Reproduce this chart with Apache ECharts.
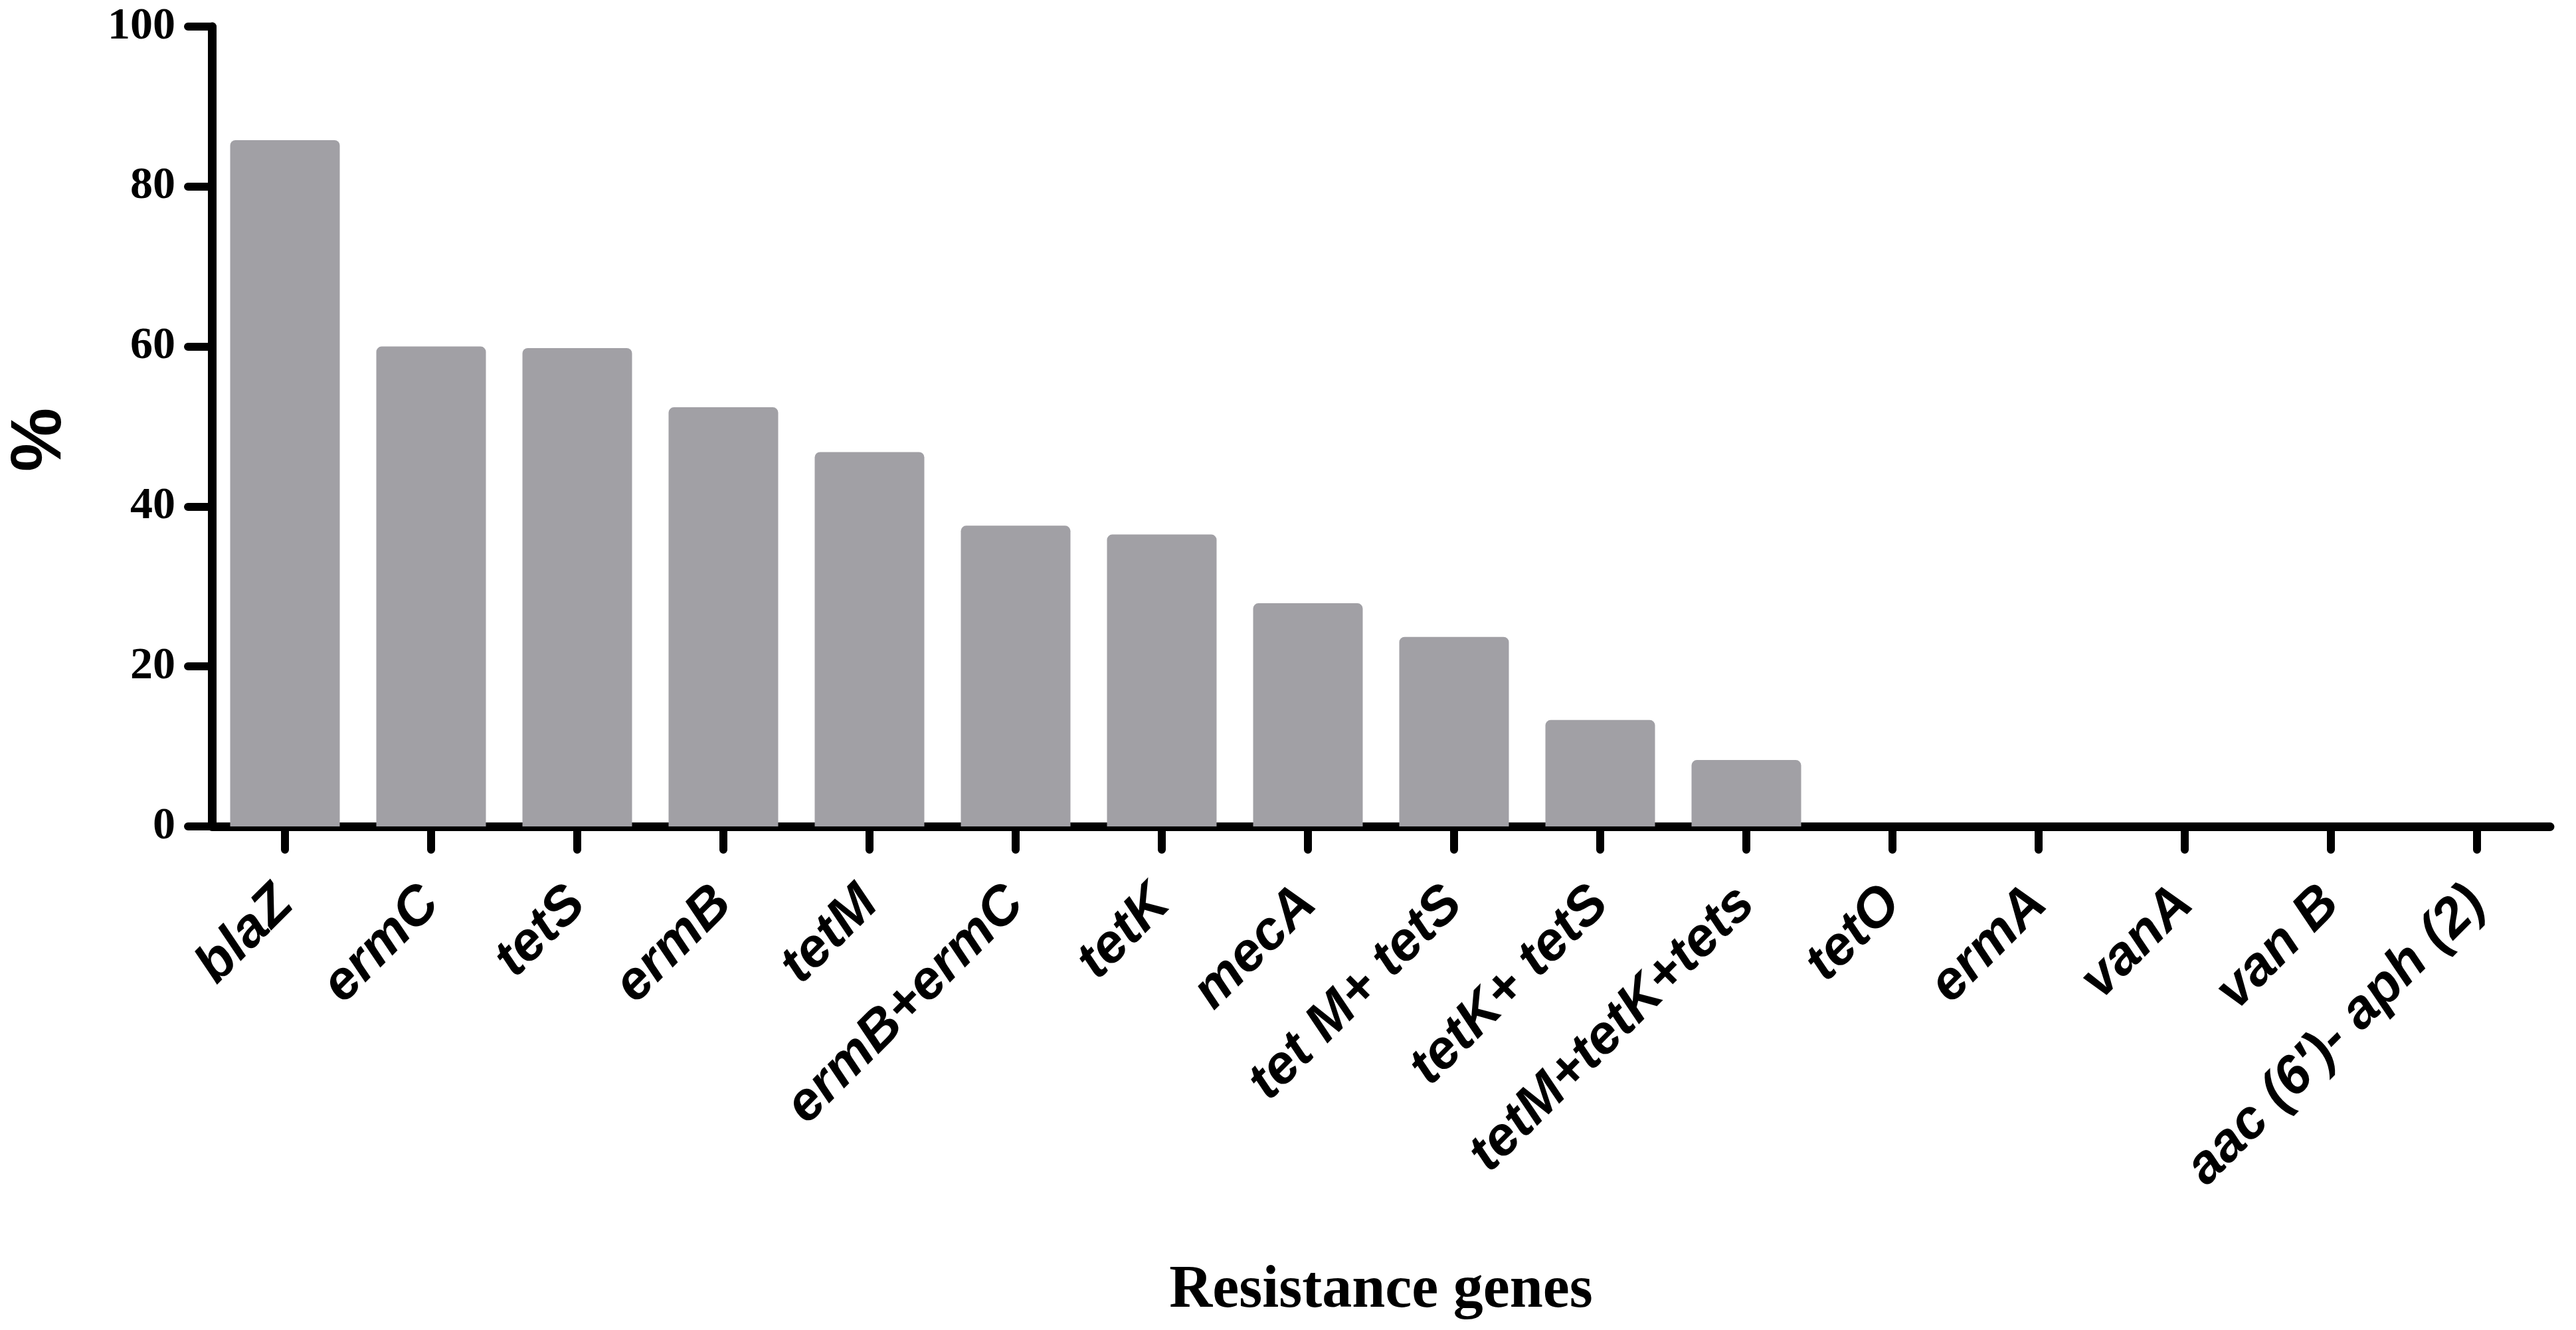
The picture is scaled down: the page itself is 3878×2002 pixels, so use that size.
<!DOCTYPE html>
<html>
<head>
<meta charset="utf-8">
<script src="https://cdn.jsdelivr.net/npm/echarts@6/dist/echarts.min.js"></script>
<style>
html,body{margin:0;padding:0;background:#fff;}
#chart{width:3878px;height:2002px;}
</style>
</head>
<body>
<div id="chart"></div>
<script>
var categories = ["blaZ","ermC","tetS","ermB","tetM","ermB+ermC","tetK","mecA","tet M+ tetS","tetK+ tetS","tetM+tetK+tets","tetO","ermA","vanA","van B","aac (6′)- aph (2)"];
var values = [85.8, 60.0, 59.8, 52.4, 46.8, 37.6, 36.5, 27.9, 23.7, 13.3, 8.3, 0, 0, 0, 0, 0];
var yTicks = [0, 20, 40, 60, 80, 100];

var chart = echarts.init(document.getElementById('chart'), null, {renderer:'canvas'});
chart.setOption({
  backgroundColor: '#ffffff',
  animation: false,
  grid: {left: 319, right: 39, top: 40, bottom: 758, containLabel: false, outerBoundsMode: 'none'},
  xAxis: {
    type: 'category',
    data: categories,
    name: 'Resistance genes',
    nameLocation: 'middle',
    nameGap: 655,
    nameTextStyle: {fontFamily: 'Liberation Serif', fontWeight: 'bold', fontSize: 90, color: '#000', verticalAlign: 'top'},
    axisLine: {show: true, lineStyle: {color: '#000', width: 13, cap: 'round'}},
    axisTick: {show: true, alignWithLabel: true, length: 35, lineStyle: {color: '#000', width: 12, cap: 'round'}},
    axisLabel: {rotate: 45, interval: 0, margin: 104, fontFamily: 'Liberation Sans', fontWeight: 'bold', fontStyle: 'italic', fontSize: 82, color: '#000'},
    splitLine: {show: false}
  },
  yAxis: {
    type: 'value',
    min: yTicks[0],
    max: yTicks[yTicks.length - 1],
    interval: 20,
    name: '%',
    nameLocation: 'middle',
    nameGap: 204,
    nameTextStyle: {fontFamily: 'Liberation Sans', fontWeight: 'bold', fontSize: 108, color: '#000', padding: [0, 40, 0, 0]},
    axisLine: {show: true, lineStyle: {color: '#000', width: 13, cap: 'round'}},
    axisTick: {show: true, length: 36, lineStyle: {color: '#000', width: 12, cap: 'round'}},
    axisLabel: {margin: 55, fontFamily: 'Liberation Serif', fontWeight: 'bold', fontSize: 68, color: '#000'},
    splitLine: {show: false}
  },
  series: [{
    type: 'bar',
    data: values,
    barWidth: '75%',
    itemStyle: {color: '#A1A0A5', borderRadius: [8, 8, 0, 0]},
    z: 1
  }]
});
</script>
</body>
</html>
